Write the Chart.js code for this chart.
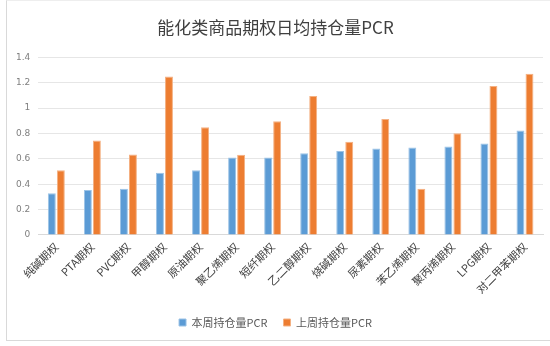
<!DOCTYPE html>
<html>
<head>
<meta charset="utf-8">
<script src="https://cdn.jsdelivr.net/npm/chart.js@4"></script>
<style>
  html, body { margin: 0; padding: 0; background: #fff; }
  #wrap {
    position: absolute; left: 6px; top: 0px; width: 546px; height: 341px;
    border-left: 1px solid #d9d9d9; border-bottom: 1px solid #d9d9d9; border-top: 1px solid #eeeeee;
    box-sizing: border-box;
  }
</style>
</head>
<body>
<div id="wrap"><canvas id="pcrChart"></canvas></div>
<script>
const categories = ["纯碱期权", "PTA期权", "PVC期权", "甲醇期权", "原油期权", "聚乙烯期权", "短纤期权",
  "乙二醇期权", "烧碱期权", "尿素期权", "苯乙烯期权", "聚丙烯期权", "LPG期权", "对二甲苯期权"];
const thisWeek = [0.33, 0.355, 0.365, 0.49, 0.51, 0.61, 0.61, 0.645, 0.663, 0.682, 0.69, 0.697, 0.722, 0.823];
const lastWeek = [0.51, 0.745, 0.635, 1.25, 0.85, 0.633, 0.897, 1.095, 0.735, 0.915, 0.365, 0.802, 1.175, 1.272];
const yTicks = [0, 0.2, 0.4, 0.6, 0.8, 1, 1.2, 1.4];

const ctx = document.getElementById("pcrChart").getContext("2d");
const pcrChart = new Chart(ctx, {
  type: "bar",
  data: {
    labels: categories,
    datasets: [
      {
        label: "本周持仓量PCR",
        data: thisWeek,
        backgroundColor: "#5b9bd5",
        borderColor: "#9cc3e6",
        borderWidth: 1,
      },
      {
        label: "上周持仓量PCR",
        data: lastWeek,
        backgroundColor: "#ed7d31",
        borderColor: "#f4b183",
        borderWidth: 1,
      },
    ],
  },
  options: {
    responsive: true,
    maintainAspectRatio: false,
    animation: false,
    barPercentage: 0.88,
    categoryPercentage: 0.5,
    layout: { padding: { left: 1, right: 9, top: 0, bottom: 2 } },
    plugins: {
      title: {
        display: true,
        text: "能化类商品期权日均持仓量PCR",
        color: "#404040",
        font: { family: "'Noto Sans CJK SC', 'DejaVu Serif'", size: 17, weight: "normal" },
        padding: { top: 16, bottom: 20 },
      },
      legend: {
        position: "bottom",
        labels: {
          boxWidth: 7,
          boxHeight: 7,
          color: "#595959",
          padding: 16,
          font: { family: "'Noto Sans CJK SC'", size: 11 },
        },
      },
      tooltip: { enabled: false },
    },
    scales: {
      x: {
        grid: { display: false, drawTicks: false },
        border: { color: "#d9d9d9" },
        ticks: {
          minRotation: 45,
          maxRotation: 45,
          padding: 5,
          color: "#404040",
          font: { family: "'Noto Sans CJK SC'", size: 11 },
        },
      },
      y: {
        min: 0,
        max: 1.4,
        afterBuildTicks: (axis) => { axis.ticks = yTicks.map((v) => ({ value: v })); },
        grid: { color: "#e6e6e6", drawTicks: false },
        border: { display: false },
        ticks: {
          padding: 8,
          color: "#7f7f7f",
          font: { family: "'DejaVu Sans'", size: 9 },
          callback: (v) => String(v),
        },
      },
    },
  },
});
</script>
</body>
</html>
